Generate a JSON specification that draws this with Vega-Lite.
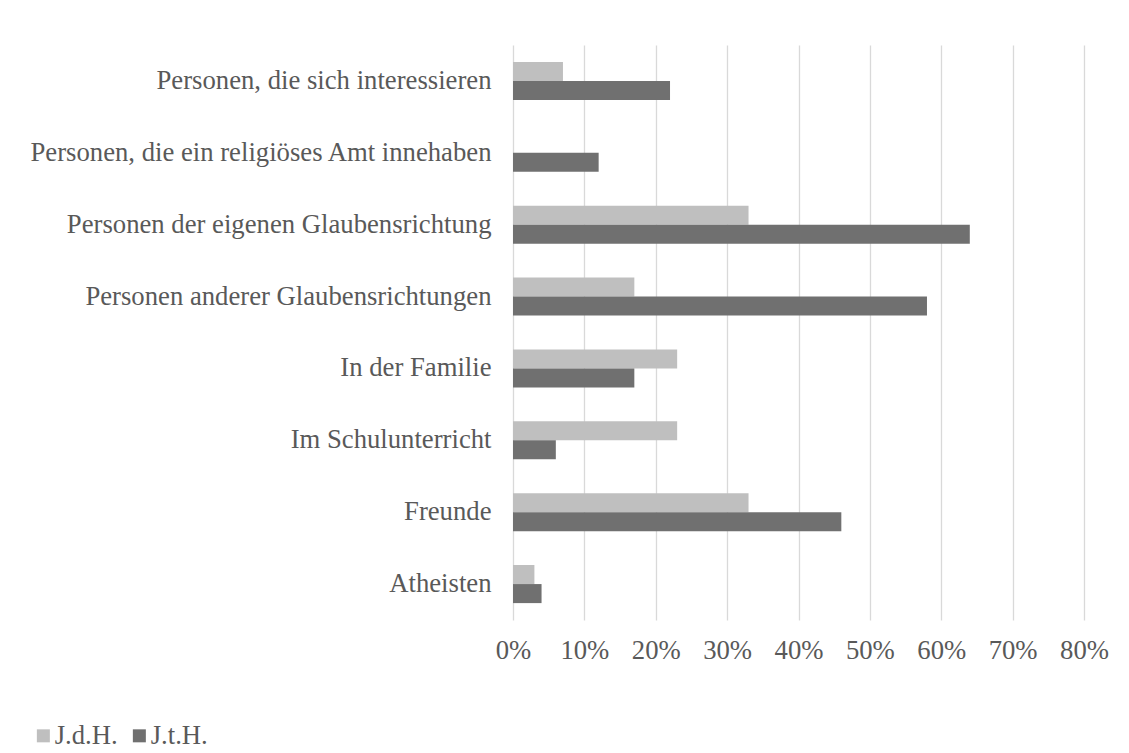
{
  "$schema": "https://vega.github.io/schema/vega-lite/v6.json",
  "width": 571,
  "height": 575,
  "autosize": {"type": "none"},
  "padding": {"left": 513, "top": 45, "right": 45, "bottom": 133},
  "background": "white",
  "config": {
    "font": "Liberation Serif",
    "view": {"stroke": null},
    "axis": {"labelFont": "Liberation Serif", "labelColor": "#595959", "labelFontSize": 26.7},
    "legend": {"labelFont": "Liberation Serif"}
  },
  "data": {
    "values": [
      {"cat": "Personen, die sich interessieren", "series": "J.d.H.", "value": 0.07},
      {"cat": "Personen, die sich interessieren", "series": "J.t.H.", "value": 0.22},
      {"cat": "Personen, die ein religiöses Amt innehaben", "series": "J.d.H.", "value": 0.0},
      {"cat": "Personen, die ein religiöses Amt innehaben", "series": "J.t.H.", "value": 0.12},
      {"cat": "Personen der eigenen Glaubensrichtung", "series": "J.d.H.", "value": 0.33},
      {"cat": "Personen der eigenen Glaubensrichtung", "series": "J.t.H.", "value": 0.64},
      {"cat": "Personen anderer Glaubensrichtungen", "series": "J.d.H.", "value": 0.17},
      {"cat": "Personen anderer Glaubensrichtungen", "series": "J.t.H.", "value": 0.58},
      {"cat": "In der Familie", "series": "J.d.H.", "value": 0.23},
      {"cat": "In der Familie", "series": "J.t.H.", "value": 0.17},
      {"cat": "Im Schulunterricht", "series": "J.d.H.", "value": 0.23},
      {"cat": "Im Schulunterricht", "series": "J.t.H.", "value": 0.06},
      {"cat": "Freunde", "series": "J.d.H.", "value": 0.33},
      {"cat": "Freunde", "series": "J.t.H.", "value": 0.46},
      {"cat": "Atheisten", "series": "J.d.H.", "value": 0.03},
      {"cat": "Atheisten", "series": "J.t.H.", "value": 0.04}
    ]
  },
  "mark": {"type": "bar"},
  "encoding": {
    "y": {
      "field": "cat",
      "type": "nominal",
      "sort": null,
      "scale": {"paddingInner": 0.47, "paddingOuter": 0.235},
      "axis": {"title": null, "domain": false, "ticks": false, "labelPadding": 22, "labelLimit": 500}
    },
    "yOffset": {"field": "series", "type": "nominal", "scale": {"paddingInner": 0, "paddingOuter": 0}},
    "x": {
      "field": "value",
      "type": "quantitative",
      "scale": {"domain": [0, 0.8]},
      "axis": {
        "title": null,
        "format": ".0%",
        "values": [0, 0.1, 0.2, 0.3, 0.4, 0.5, 0.6, 0.7, 0.8],
        "domain": false,
        "ticks": false,
        "grid": true,
        "gridColor": "#d9d9d9",
        "gridWidth": 1.3,
        "labelPadding": 17,
        "labelFlush": false
      }
    },
    "color": {
      "field": "series",
      "type": "nominal",
      "scale": {"domain": ["J.d.H.", "J.t.H."], "range": ["#bfbfbf", "#707070"]},
      "legend": {
        "title": null,
        "orient": "none",
        "direction": "horizontal",
        "legendX": -483,
        "legendY": 677,
        "symbolType": "square",
        "symbolSize": 169,
        "symbolStrokeWidth": 0,
        "labelFontSize": 26.7,
        "labelColor": "#595959",
        "columnPadding": 8,
        "labelOffset": -2
      }
    }
  }
}
